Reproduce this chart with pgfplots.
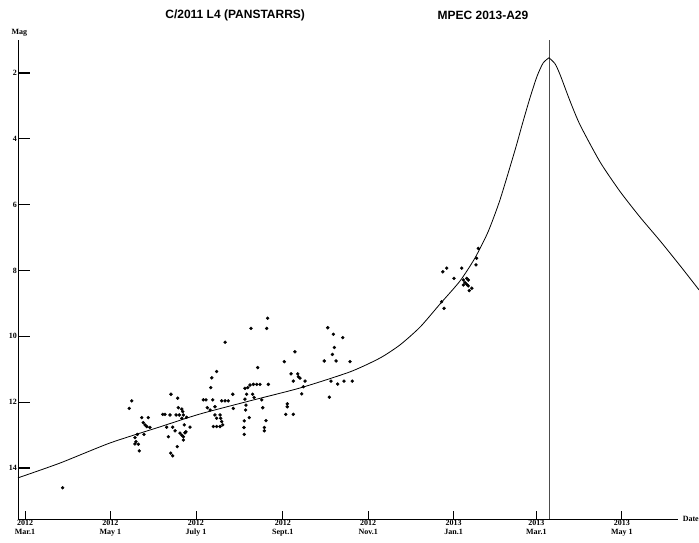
\documentclass[border=0pt]{standalone}
\usepackage{pgfplots}
\pgfplotsset{compat=1.18}
\usepackage{fontspec}
\setmainfont{Liberation Serif}
\newfontfamily\titlefont{Liberation Sans}
\begin{document}
\begin{tikzpicture}
\begin{axis}[
  name=ax,
  scale only axis,
  width=660pt, height=479pt,
  xmin=-5, xmax=466.1,
  ymin=1.0, ymax=15.55,
  y dir=reverse,
  axis lines=left,
  axis line style={black, line width=0.6pt, -},
  clip=false,
  tick align=inside,
  major tick length=12pt,
  xtick style={/pgfplots/major tick length=8pt, line width=0.8pt, black},
  ytick style={line width=1.2pt, black},
  ytick={2,4,6,8,10,12,14},
  xtick={0,61,122,184,245,306,365,426},
  xticklabels={{2012\\Mar.1},{2012\\May 1},{2012\\July 1},{2012\\Sept.1},{2012\\Nov.1},{2013\\Jan.1},{2013\\Mar.1},{2013\\May 1}},
  xticklabel style={align=center, font=\fontsize{8}{8.5}\selectfont\bfseries, inner sep=1pt},
  yticklabel style={font=\fontsize{8}{9}\selectfont\bfseries, inner sep=1pt},
  /pgf/number format/assume math mode=true,
]
% perihelion line
\addplot[gray!60!black, line width=0.5pt] coordinates {(374,1.0) (374,15.55)};
% fitted curve, left branch
\addplot[black, line width=0.8pt, smooth, tension=0.4] coordinates {
(-5.0,14.30) (25.0,13.85) (60.7,13.24) (96.4,12.75) (124.9,12.36) (160.6,11.96)
(196.3,11.57) (232.0,11.08) (253.4,10.66) (267.7,10.26) (282.0,9.72) (296.2,9.02)
(310.5,8.32) (321.2,7.62) (330.5,6.83) (339.0,5.86) (349.8,4.34) (355.0,3.55)
(360.5,2.75) (365.5,2.10) (369.8,1.70) (374.0,1.54)};
% fitted curve, right branch
\addplot[black, line width=0.8pt, smooth, tension=0.4] coordinates {
(374.0,1.54) (378.3,1.72) (381.9,2.05) (389.0,2.85) (396.2,3.58) (410.4,4.70)
(424.7,5.60) (439.0,6.38) (453.3,7.10) (467.5,7.85) (481.1,8.59)};
% observations
\addplot[only marks, mark=*, mark size=1.5pt, black] coordinates {
(26.9,14.60) (76.2,11.96) (74.4,12.19) (83.3,12.47) (88.0,12.47) (84.4,12.62)
(85.7,12.69) (86.9,12.74) (89.2,12.77) (84.9,12.98) (80.2,12.98) (78.5,13.08)
(79.2,13.20) (78.5,13.27) (80.9,13.28) (81.6,13.48) (104.2,11.76) (109.0,11.88)
(98.3,12.37) (99.9,12.37) (103.5,12.39) (107.8,12.39) (110.1,12.39) (109.4,12.17)
(111.9,12.21) (112.6,12.29) (113.0,12.39) (115.4,12.46) (111.9,12.49) (101.1,12.76)
(105.4,12.76) (107.1,12.87) (102.3,13.05) (110.6,12.94) (111.9,13.00) (113.0,13.05)
(114.2,12.93) (114.9,12.90) (113.0,13.15) (117.8,12.76) (113.7,12.69) (108.7,13.35)
(104.0,13.55) (105.4,13.63) (142.8,10.18) (136.8,11.07) (133.3,11.26) (132.6,11.56)
(127.3,11.93) (129.2,11.93) (134.0,11.93) (130.1,12.17) (135.6,12.14) (132.1,12.24)
(140.4,11.96) (142.8,11.96) (145.1,11.96) (135.6,12.39) (136.8,12.49) (139.2,12.39)
(139.7,12.49) (140.4,12.59) (139.2,12.74) (136.8,12.74) (134.4,12.74) (141.1,12.69)
(148.3,11.76) (148.7,12.19) (161.3,9.76) (172.5,9.76) (173.2,9.45) (166.1,10.95)
(157.0,11.58) (159.0,11.56) (160.6,11.48) (163.0,11.46) (165.4,11.46) (167.7,11.46)
(173.7,11.46) (158.2,11.76) (162.5,11.76) (163.5,11.86) (157.0,11.91) (157.7,12.09)
(157.5,12.24) (169.0,11.93) (169.7,12.17) (160.1,12.47) (156.5,12.57) (156.3,12.77)
(156.5,12.98) (172.0,12.56) (170.8,12.77) (170.8,12.87) (192.7,10.47) (185.1,10.77)
(189.9,11.14) (194.7,11.14) (195.1,11.23) (196.3,11.27) (191.5,11.36) (199.9,11.36)
(198.7,11.53) (197.5,11.75) (187.2,12.05) (187.2,12.14) (186.1,12.37) (191.5,12.37)
(216.1,9.74) (220.1,9.94) (226.8,10.04) (220.8,10.34) (219.4,10.55) (213.6,10.75)
(222.0,10.75) (232.0,10.77) (218.4,11.36) (223.2,11.45) (227.7,11.36) (233.6,11.36)
(217.2,11.85) (323.6,7.33) (322.4,7.63) (321.9,7.83) (298.2,8.04) (301.0,7.93)
(311.7,7.93) (306.2,8.24) (312.9,8.29) (315.3,8.24) (316.4,8.29) (314.1,8.37)
(315.3,8.42) (316.4,8.47) (312.9,8.44) (318.9,8.54) (317.1,8.61) (297.4,8.95)
(299.1,9.15)};
% texts
\node[font=\titlefont\bfseries\fontsize{12}{14}\selectfont] at (axis cs:150,0.24) {C/2011 L4 (PANSTARRS)};
\node[font=\titlefont\bfseries\fontsize{12}{14}\selectfont] at (axis cs:326.9,0.24) {MPEC 2013-A29};
\node[font=\fontsize{8}{9}\selectfont\bfseries] at (axis cs:-4,0.78) {Mag};
\node[font=\fontsize{8}{9}\selectfont\bfseries, anchor=west] at (axis cs:467,15.55) {Date};
\end{axis}
\pgfresetboundingbox
\path (ax.south west) ++(-18pt,-23pt) rectangle ++(699pt,542pt);
\end{tikzpicture}
\end{document}
